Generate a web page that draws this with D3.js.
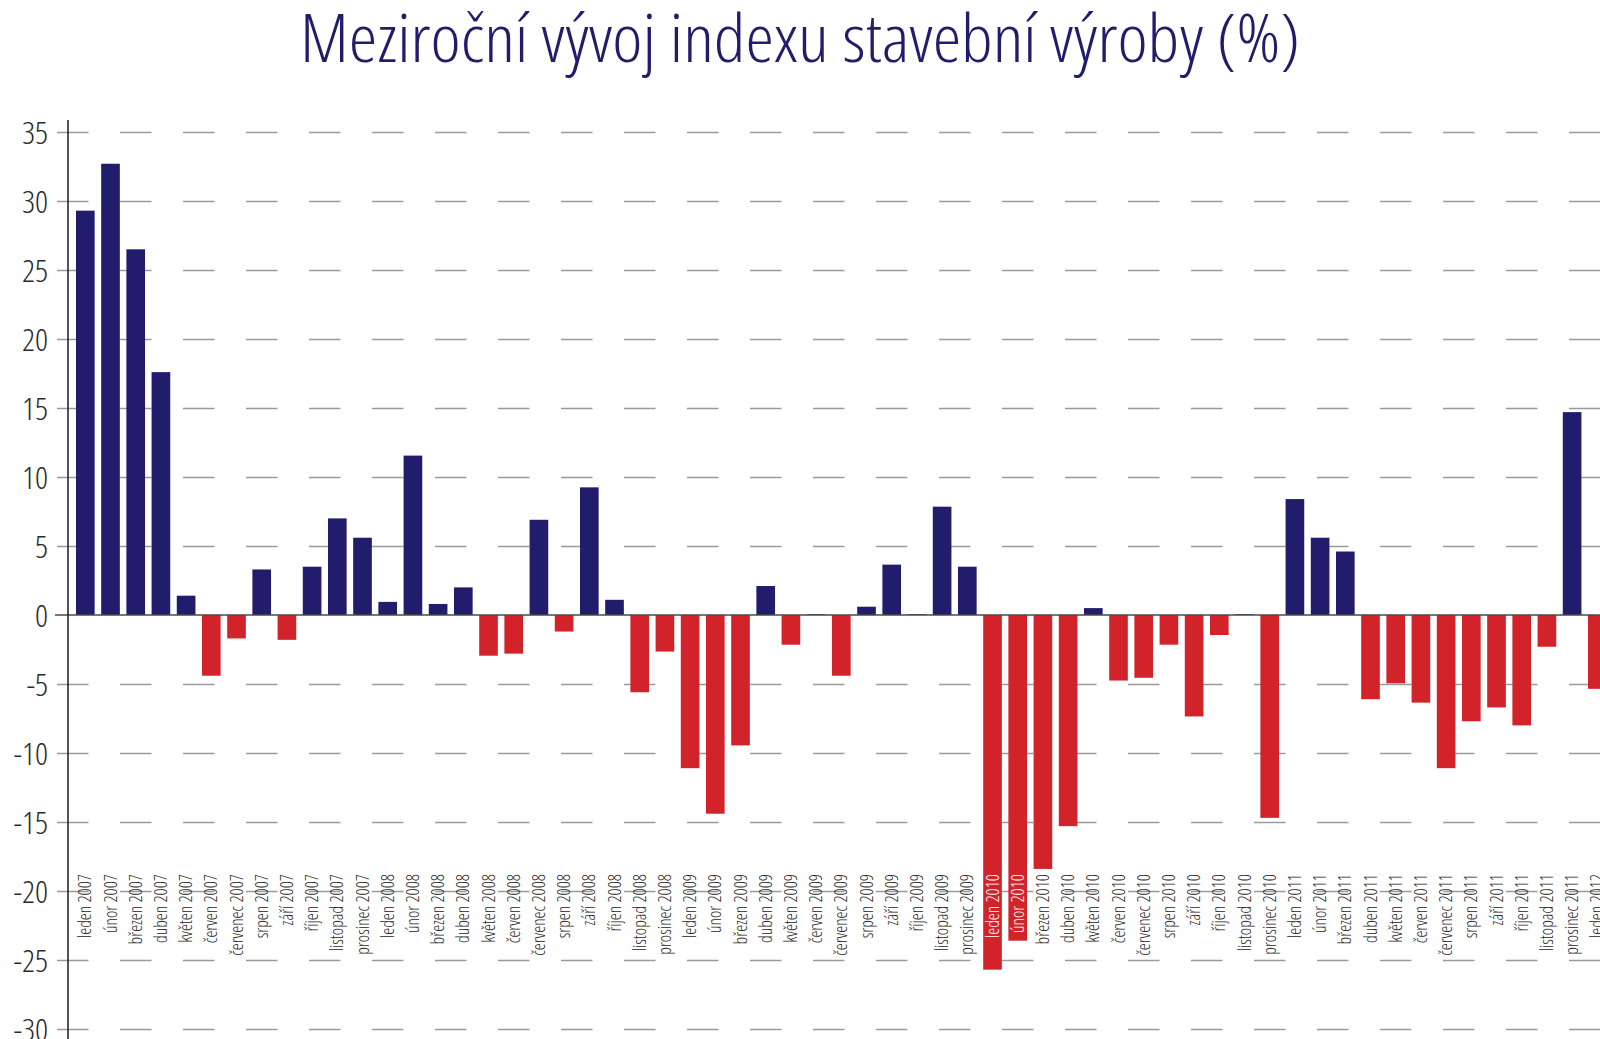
<!DOCTYPE html>
<html lang="cs">
<head>
    <meta charset="UTF-8">
    <title>Meziroční vývoj indexu stavební výroby</title>
    <script src="https://d3js.org/d3.v7.min.js"></script>
    <style>
        body { margin: 0; background: #fff; }
        svg { display: block; }
        text { font-family: "Open Sans", "DejaVu Sans Condensed", sans-serif; font-stretch: 75%; font-weight: 300; }
    </style>
</head>
<body>
    <div id="graph"></div>
    <script>
        // měsíce leden 2007 - leden 2012
        const categories = [
            "leden 2007", "únor 2007", "březen 2007", "duben 2007", "květen 2007", "červen 2007",
            "červenec 2007", "srpen 2007", "září 2007", "říjen 2007", "listopad 2007", "prosinec 2007",
            "leden 2008", "únor 2008", "březen 2008", "duben 2008", "květen 2008", "červen 2008",
            "červenec 2008", "srpen 2008", "září 2008", "říjen 2008", "listopad 2008", "prosinec 2008",
            "leden 2009", "únor 2009", "březen 2009", "duben 2009", "květen 2009", "červen 2009",
            "červenec 2009", "srpen 2009", "září 2009", "říjen 2009", "listopad 2009", "prosinec 2009",
            "leden 2010", "únor 2010", "březen 2010", "duben 2010", "květen 2010", "červen 2010",
            "červenec 2010", "srpen 2010", "září 2010", "říjen 2010", "listopad 2010", "prosinec 2010",
            "leden 2011", "únor 2011", "březen 2011", "duben 2011", "květen 2011", "červen 2011",
            "červenec 2011", "srpen 2011", "září 2011", "říjen 2011", "listopad 2011", "prosinec 2011",
            "leden 2012"
        ];

        // meziroční změna v %
        const values = [
            29.3, 32.7, 26.5, 17.6, 1.4, -4.4, -1.7, 3.3, -1.8, 3.5, 7.0, 5.6,
            0.95, 11.55, 0.8, 2.0, -2.95, -2.8, 6.9, -1.2, 9.25, 1.1, -5.6, -2.65,
            -11.1, -14.4, -9.45, 2.1, -2.15, 0.05, -4.4, 0.6, 3.65, 0.05, 7.85, 3.5,
            -25.7, -23.6, -18.4, -15.3, 0.5, -4.75, -4.55, -2.15, -7.35, -1.45, 0.05, -14.7,
            8.4, 5.6, 4.6, -6.1, -4.95, -6.35, -11.1, -7.7, -6.7, -8.0, -2.3, 14.7,
            -5.35
        ];

        const yTicks = [-30, -25, -20, -15, -10, -5, 0, 5, 10, 15, 20, 25, 30, 35];

        const W = 1600, H = 1039;
        const navy = "#211c6c", red = "#d2232b";

        const svg = d3.select("#graph")
            .append("svg")
            .attr("width", W)
            .attr("height", H);

        // titulek
        svg.append("text")
            .attr("x", 800)
            .attr("y", 62)
            .attr("text-anchor", "middle")
            .attr("font-size", 67)
            .attr("fill", navy)
            .attr("textLength", 1000)
            .attr("lengthAdjust", "spacingAndGlyphs")
            .text("Meziroční vývoj indexu stavební výroby (%)");

        const axisX = 68;
        const step = 25.2, padIn = 0.26, padOut = 0.317;

        const x = d3.scaleBand()
            .domain(categories)
            .range([axisX, axisX + step * (categories.length - padIn + 2 * padOut)])
            .paddingInner(padIn)
            .paddingOuter(padOut);

        const y = d3.scaleLinear()
            .domain([-30, 35])
            .range([1029, 132]);

        // mřížka + popisky osy Y
        const gy = svg.append("g")
            .attr("transform", "translate(57,0)")
            .call(d3.axisLeft(y)
                .tickValues(yTicks)
                .tickSizeInner(-(W - 57))
                .tickSizeOuter(0)
                .tickPadding(9)
                .tickFormat(d3.format("d")));
        gy.select(".domain").remove();
        gy.selectAll(".tick line")
            .attr("stroke", d => d === 0 ? "none" : "#9a9a9a")
            .attr("stroke-width", 1.4)
            .attr("stroke-dasharray", "31.5,31.5");
        gy.selectAll(".tick text")
            .attr("font-size", 32)
            .attr("fill", "#2a2a2a")
            .attr("x", -9)
            .attr("dy", "0.36em")
            .text(d => d < 0 ? "-" + Math.abs(d) : d);

        // popisky kategorií
        const gx = svg.append("g")
            .attr("transform", "translate(0,874)")
            .call(d3.axisBottom(x).tickSize(0).tickPadding(0));
        gx.select(".domain").remove();

        // sloupce
        svg.selectAll(".bar")
            .data(values)
            .join("rect")
            .attr("class", "bar")
            .attr("x", (d, i) => x(categories[i]))
            .attr("y", d => y(Math.max(0, d)))
            .attr("width", x.bandwidth())
            .attr("height", d => Math.abs(y(d) - y(0)))
            .attr("fill", d => d >= 0 ? navy : red);

        gx.raise();
        gx.selectAll(".tick text")
            .attr("transform", "rotate(-90)")
            .attr("text-anchor", "end")
            .attr("x", 0)
            .attr("y", 0)
            .attr("dy", "0.35em")
            .attr("font-size", 17.5)
            .attr("fill", (d, i) => values[i] < -22 ? "#fff" : "#262626");

        // nulová linie
        svg.append("line")
            .attr("x1", 55)
            .attr("x2", W)
            .attr("y1", y(0))
            .attr("y2", y(0))
            .attr("stroke", "#4a4a4a")
            .attr("stroke-width", 1.6);

        // osa Y
        svg.append("line")
            .attr("x1", axisX)
            .attr("x2", axisX)
            .attr("y1", 120)
            .attr("y2", H)
            .attr("stroke", "#1a1a1a")
            .attr("stroke-width", 1.5);
    </script>
</body>
</html>
